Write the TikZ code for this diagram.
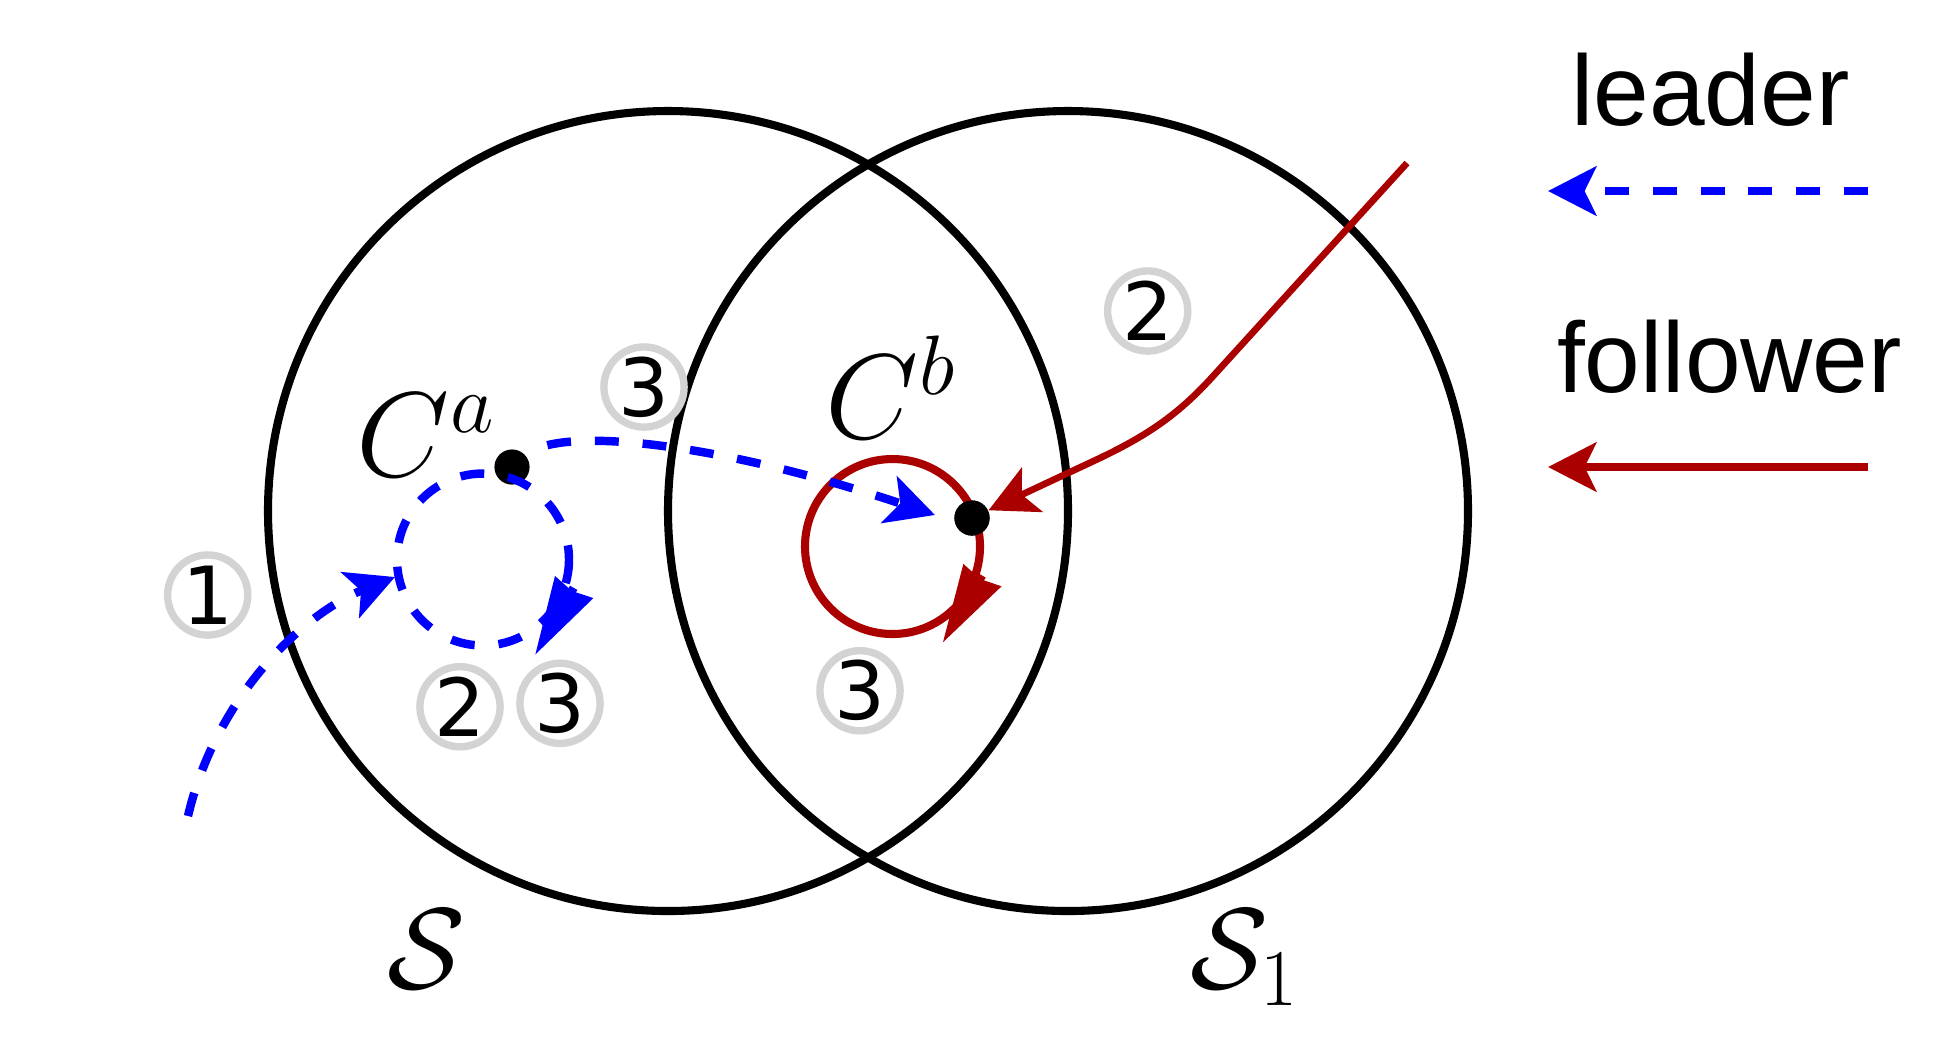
\RequirePackage{fix-cm}
\documentclass[tikz,border=0pt]{standalone}
\usepackage{fontspec}
\newfontfamily\legendfont{Liberation Sans}
\newfontfamily\numfont{DejaVu Sans}
\usetikzlibrary{arrows.meta}
\definecolor{leaderblue}{RGB}{0,0,255}
\definecolor{followred}{RGB}{170,0,0}
\definecolor{ringgray}{RGB}{211,211,211}
\tikzset{
  bigcirc/.style={draw=black, line width=2.3pt},
  leadline/.style={draw=leaderblue, line width=2.4pt, dash pattern=on 6.8pt off 6.8pt},
  followline/.style={draw=followred, line width=1.9pt},
  stdtip/.tip={Stealth[length=13.7pt,width=13.9pt,inset=3.3pt]},
  longtip/.tip={Stealth[length=22pt,width=12pt,inset=1pt]},
  ring/.style={circle, draw=ringgray, line width=2.1pt, minimum size=22.8pt, inner sep=0pt,
    font=\numfont\fontsize{22.8pt}{26pt}\selectfont},
  blackdot/.style={circle, fill=black, minimum size=10pt, inner sep=0pt},
  mathlbl/.style={inner sep=0pt, font=\fontsize{32.7pt}{39pt}\selectfont},
  legendtext/.style={inner sep=0pt, font=\legendfont\fontsize{28.45pt}{34pt}\selectfont}
}
\begin{document}
\begin{tikzpicture}[x=0.01cm,y=-0.01cm]
\useasboundingbox (0,0) rectangle (1955,1050);
% big regions
\draw[bigcirc] (668,511) circle[radius=400];
\draw[bigcirc] (1068,511) circle[radius=400];
\node[mathlbl] (S) at (427,949) {$\mathcal{S}$};
\node[mathlbl] (S1) at (1245,958) {$\mathcal{S}_1$};
% centres
\node[blackdot] (Ca) at (512,467) {};
\node[blackdot] (Cb) at (972,518) {};
\node[mathlbl, font=\fontsize{34.3pt}{41pt}\selectfont] (Calbl) at (426,435) {$C^a$};
\node[mathlbl, font=\fontsize{34.3pt}{41pt}\selectfont] (Cblbl) at (891,387) {$C^b$};
% follower
\draw[followline, line width=2.3pt] (892.5,546.5) circle[radius=87.5];
\coordinate (fstart) at (1407,163);
\draw[followline, -{stdtip}] (fstart) -- (1215,374) .. controls (1180,413) and (1150,434) .. (1100,458) -- (Cb);
\coordinate (fb) at (982.2,575.5);
\coordinate (ft) at (942.7,642.7);
\draw[followline, line width=2.3pt, -{longtip}] (fb) -- (ft);
\node[blackdot] at (Cb) {};
% leader
\coordinate (lstart) at (188,816);
\coordinate (lenter) at (395,577);
\coordinate (tipB) at (935,515);
\draw[leadline, -{stdtip}] (lstart) .. controls (215,700) and (300,615) .. (lenter);
\draw[leadline, dash phase=6.8pt, -{stdtip}] (Ca) .. controls (560,425) and (720,443) .. (tipB);
\draw[leadline] (483,559.5) circle[radius=86];
\coordinate (lb) at (573.7,587.8);
\coordinate (lt) at (535,655);
\draw[leadline, solid, -{longtip}] (lb) -- (lt);
% step markers
\node[ring] (m1) at (207.7,595) {1};
\node[ring] (m2a) at (460,706.7) {2};
\node[ring] (m3a) at (560,703.3) {3};
\node[ring] (m3b) at (644,387) {3};
\node[ring] (m2f) at (1147.7,311) {2};
\node[ring] (m3f) at (860,690.7) {3};
% legend
\node[legendtext, anchor=base] (leg1) at (1710.5,125) {leader};
\node[legendtext, anchor=base] (leg2) at (1729.5,392) {follower};
\coordinate (l1s) at (1868,191);
\coordinate (l1e) at (1548,191);
\coordinate (l2s) at (1868,467);
\coordinate (l2e) at (1548,467);
\draw[leadline, line width=2.5pt, -{stdtip}] (l1s) -- (l1e);
\draw[followline, line width=2.5pt, -{stdtip}] (l2s) -- (l2e);
\end{tikzpicture}
\end{document}
